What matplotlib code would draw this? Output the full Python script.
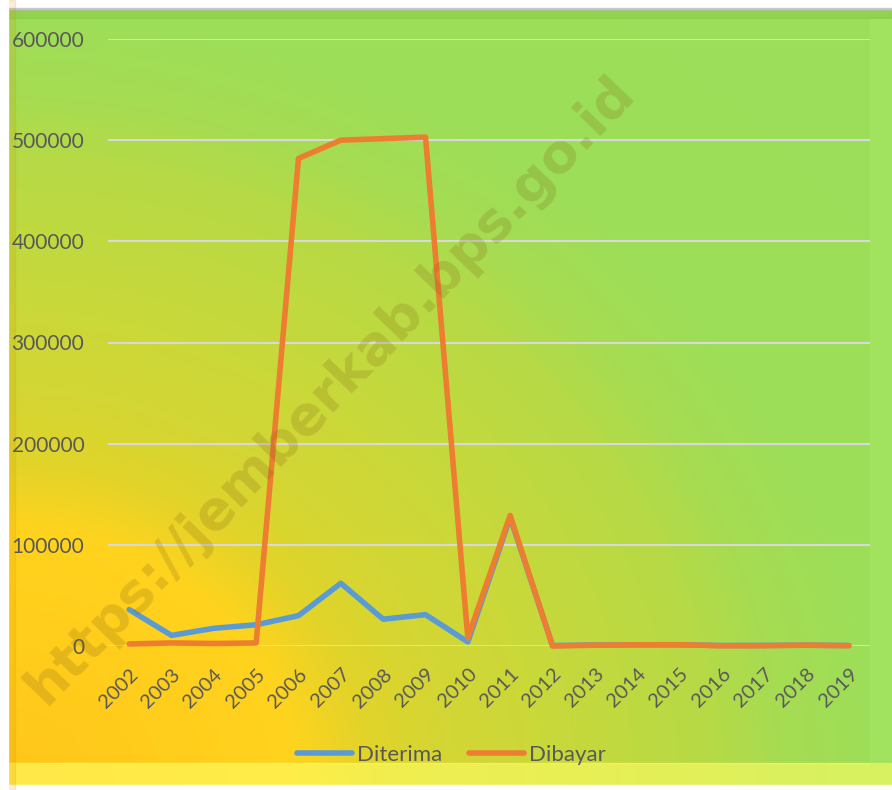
import matplotlib
matplotlib.use("Agg")
import matplotlib.pyplot as plt
import numpy as np
from matplotlib.colors import LinearSegmentedColormap
from matplotlib.patches import Rectangle

plt.rcParams["font.family"] = ["Lato", "DejaVu Sans"]
plt.rcParams["font.size"] = 11

# Data
years = [str(y) for y in range(2002, 2020)]
diterima = [36000, 10500, 17500, 21000, 30000, 62000, 26500, 31000, 4000,
            127000, 500, 1000, 1200, 1200, 500, 600, 800, 500]
dibayar = [2000, 3000, 2500, 3000, 482000, 500000, 501500, 503000, 8000,
           129000, 0, 800, 1200, 1300, 200, 300, 800, 300]
y_ticks = [0, 100000, 200000, 300000, 400000, 500000, 600000]

TEXT_COLOR = "#595959"
W, H = 892, 790

fig = plt.figure(figsize=(W / 100, H / 100), dpi=100)

# radial gradient from the bottom-left corner, yellow going to green
bg = fig.add_axes([0, 0, 1, 1], zorder=0)
xx, yy = np.meshgrid(np.linspace(0, 1, 400), np.linspace(0, 1, 400))
d = np.sqrt(xx ** 2 + yy ** 2) / np.sqrt(2)
stops = [(0, "#FFC61A"), (0.33, "#FFD31E"), (0.42, "#E0D42A"), (0.5, "#D4D634"),
         (0.59, "#CCD838"), (0.68, "#C2D93E"), (0.8, "#B6DA46"), (0.88, "#A6DC52"),
         (0.98, "#9EDE58")]
cmap = LinearSegmentedColormap.from_list(
    "bg", [(p / np.sqrt(2), c) for p, c in stops] + [(1.0, "#9CDF5A")])
bg.imshow(d, cmap=cmap, origin="lower", extent=[0, 1, 0, 1], aspect="auto", vmin=0, vmax=1)
# frame bevels
bg.add_patch(Rectangle((0, 1 - 9 / H), 1, 9 / H, color="white", zorder=3))
bg.add_patch(Rectangle((0, 1 - 10 / H), 1, 1.5 / H, color="#C8C8C8", zorder=3))
bg.add_patch(Rectangle((0, 1 - 18 / H), 1, 8 / H, color="#7FC03A", alpha=0.35, zorder=3))
bg.add_patch(Rectangle((0, 5 / H), 1, 22 / H, color="#FFFF66", alpha=0.6, zorder=3))
bg.add_patch(Rectangle((0, 0), 1, 5 / H, color="white", zorder=3))
bg.add_patch(Rectangle((8 / W, 0), 7 / W, 1, color="#D08A00", alpha=0.15, zorder=3))
bg.add_patch(Rectangle((0, 0), 8 / W, 1, color="white", zorder=4))
bg.add_patch(Rectangle((870 / W, 27 / H), 22 / W, 1 - 46 / H, color="#B0F070", alpha=0.25, zorder=3))
bg.set_xlim(0, 1)
bg.set_ylim(0, 1)
bg.axis("off")

ax = fig.add_axes([108 / W, 1 - 646 / H, (870 - 108) / W, (646 - 39) / H], zorder=1)
ax.patch.set_alpha(0)
xs = np.arange(len(years))
ax.plot(xs, diterima, color="#5B9BD5", lw=4, label="Diterima", clip_on=False,
        solid_joinstyle="round", solid_capstyle="round", zorder=3)
ax.plot(xs, dibayar, color="#ED7D31", lw=4, label="Dibayar", clip_on=False,
        solid_joinstyle="round", solid_capstyle="round", zorder=4)

ax.set_xlim(-0.5, len(years) - 0.5)
ax.set_ylim(0, 600000)
ax.set_yticks(y_ticks)
ax.set_yticklabels([str(v) for v in y_ticks], color=TEXT_COLOR, fontsize=15)
ax.set_xticks(xs)
ax.set_xticklabels(years, rotation=45, ha="right", rotation_mode="anchor",
                   color=TEXT_COLOR, fontsize=14.5)
ax.tick_params(axis="both", length=0)
ax.tick_params(axis="y", pad=17)
ax.tick_params(axis="x", pad=14)
ax.grid(axis="y", color="#D9D9D9", lw=1.5)
ax.set_axisbelow(True)
for s in ax.spines.values():
    s.set_visible(False)

leg = fig.legend(loc="center", bbox_to_anchor=(451 / W, 1 - 755 / H), ncol=2,
                 frameon=False, fontsize=16, handlelength=2.5, columnspacing=1.2,
                 handletextpad=0.2)
for txt in leg.get_texts():
    txt.set_color(TEXT_COLOR)

# watermark
fig.text(330 / W, 1 - 390 / H, "https://jemberkab.bps.go.id", rotation=46,
         ha="center", va="center", fontsize=39, fontweight="bold",
         family="DejaVu Sans", color="#7A5A10", alpha=0.2, zorder=5)

fig.savefig("out.png", dpi=100)
